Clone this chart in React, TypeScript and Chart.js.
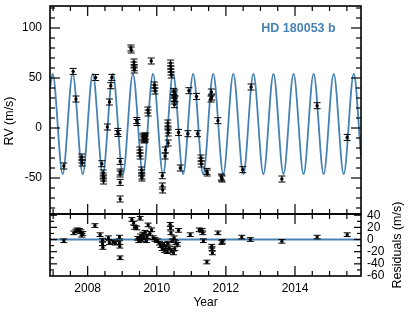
import React, { useEffect, useRef } from 'react';
import { Chart, registerables } from 'chart.js';
Chart.register(...registerables);

// ---------- data ----------
const X_MIN = 2006.91;
const X_MAX = 2015.91;

const rvYears = [
  2007.31, 2007.58, 2007.66, 2007.83, 2007.83, 2007.84, 2008.23, 2008.41, 2008.45, 2008.45,
  2008.46, 2008.46, 2008.57, 2008.63, 2008.67, 2008.70, 2008.87, 2008.88, 2008.94, 2008.94,
  2008.94, 2008.94, 2008.94, 2009.25, 2009.26, 2009.34, 2009.34, 2009.35, 2009.35, 2009.42,
  2009.43, 2009.51, 2009.51, 2009.52, 2009.56, 2009.56, 2009.57, 2009.57, 2009.60, 2009.62,
  2009.63, 2009.64, 2009.65, 2009.66, 2009.67, 2009.68, 2009.74, 2009.75, 2009.84, 2009.93,
  2009.94, 2009.95, 2010.16, 2010.16, 2010.17, 2010.24, 2010.25, 2010.32, 2010.32, 2010.33,
  2010.33, 2010.33, 2010.40, 2010.40, 2010.41, 2010.41, 2010.42, 2010.49, 2010.50, 2010.50,
  2010.51, 2010.51, 2010.52, 2010.53, 2010.63, 2010.68, 2010.90, 2010.93, 2011.15, 2011.18,
  2011.28, 2011.28, 2011.29, 2011.45, 2011.46, 2011.58, 2011.59, 2011.57, 2011.77, 2011.87,
  2011.88, 2011.89, 2012.49, 2012.73, 2013.62, 2014.64, 2015.51,
];
const rvValues = [
  -38, 56.6, 29, -29, -32, -35, 50.5, -35.7, -45, -48,
  -50, -53, 1, 26, 42.3, 50.6, -3.4, -5.5, -33.4, -44,
  -46, -54.4, -71, 80, 78, 66, 63, 60.3, 58, 7.5,
  5.5, -22, -25, -28, -42, -45, -48, -50, -9, -11,
  -8, -12, -10, -9, -11, -8, 18, 15, 67, 43,
  40, 37, -47.7, -58, -62, -28, -22, 5, 2, -2,
  -5, -15, 65, 62, 59, 56, 53, 36.6, 33, 30,
  27, 23.3, 35, 29, -4.4, -40, -5.7, 37.3, 31.6, -5.7,
  -30, -33, -36, -43.4, -45, 36, 31, 29, 7.3, -49,
  -50, -51, -41.7, 41, -51, 22.3, -9.4,
];
const RV_ERR = 3;

const resYears = [
  2007.31, 2007.60, 2007.66, 2007.70, 2007.76, 2007.80, 2007.83, 2007.86, 2008.21, 2008.36,
  2008.43, 2008.43, 2008.44, 2008.60, 2008.63, 2008.74, 2008.80, 2008.92, 2008.92, 2008.93,
  2008.94, 2009.28, 2009.33, 2009.36, 2009.52, 2009.42, 2009.45, 2009.48, 2009.53, 2009.57,
  2009.60, 2009.62, 2009.66, 2009.70, 2009.72, 2009.75, 2009.80, 2009.85, 2009.90, 2009.95,
  2010.02, 2010.08, 2010.12, 2010.16, 2010.20, 2010.22, 2010.27, 2010.30, 2010.32, 2010.36,
  2010.42, 2010.48, 2010.52, 2010.45, 2010.50, 2010.55, 2010.60, 2010.39, 2010.40, 2010.41,
  2010.63, 2010.97, 2011.23, 2011.31, 2011.33, 2011.35, 2011.45, 2011.59, 2011.60, 2011.61,
  2011.77, 2011.88, 2011.90, 2012.46, 2012.71, 2013.62, 2014.64, 2015.51,
];
const resValues = [
  -2, 11, 14, 16, 15, 13, 7, 10, 23, 8,
  -1, -7, -13, 3, -5, -4, -6, 4, -5, -11,
  -30, 33, 27, 20, 35, 19, 2, -2, 6, 0,
  9, 3, 12, -2, 5, 24, 10, 16, 3, 0,
  -2, -6, -10, -15, -8, -18, -12, -20, -6, -14,
  -18, -22, -15, -2, 3, -5, -8, 25, 19, 11,
  15, 8, 16, 15, 11, -2, -37, -11, -15, -22,
  11, -5, -3, 4, 0, -3, 4, 8,
];
const RES_ERR = 3;

// Keplerian fit: its extremes (peaks / troughs) and the edge values
const fitYears = [
  2006.91, 2006.986, 2007.276, 2007.567, 2007.857, 2008.148, 2008.438, 2008.729, 2009.019,
  2009.31, 2009.6, 2009.891, 2010.181, 2010.472, 2010.762, 2011.053, 2011.343, 2011.634,
  2011.924, 2012.215, 2012.505, 2012.796, 2013.086, 2013.377, 2013.667, 2013.958, 2014.248,
  2014.539, 2014.829, 2015.12, 2015.41, 2015.701, 2015.91,
];
const fitValues = [
  40, 54, -46, 54, -46, 54, -46, 54, -46,
  54, -46, 54, -46, 54, -46, 54, -46, 54,
  -46, 54, -46, 54, -46, 54, -46, 54, -46,
  54, -46, 54, -46, 54, -28,
];

const rvTicks = [-50, 0, 50, 100];
const resTicks = [-60, -40, -20, 0, 20, 40];
const yearTicks = [2008, 2010, 2012, 2014];
const yearMinorStep = 0.5;

const BLUE = '#4682b4';
const FONT = "'Liberation Sans', Arial, Helvetica, sans-serif";

function steps(a: number, b: number, step: number): number[] {
  const out: number[] = [];
  for (let v = a; v <= b + 1e-9; v += step) out.push(Math.round(v * 1000) / 1000);
  return out;
}

function framePlugin(o: {
  yMinor: number[]; yMajor: number[]; yMajorLen: number; yMinorLen: number;
  xMajorLen: number; xMinorLen: number;
}) {
  return {
    id: 'frameTicks',
    afterDraw(chart: any) {
      const { ctx, chartArea: a, scales } = chart;
      const xs = scales.x;
      const ys = scales.y;
      ctx.save();
      ctx.strokeStyle = '#000';
      ctx.lineWidth = 1.2;
      const seg = (x1: number, y1: number, x2: number, y2: number) => {
        ctx.beginPath();
        ctx.moveTo(x1, y1);
        ctx.lineTo(x2, y2);
        ctx.stroke();
      };
      for (const v of steps(2007, 2015.5, yearMinorStep)) {
        const px = xs.getPixelForValue(v);
        if (px <= a.left || px >= a.right) continue;
        const len = yearTicks.includes(v) ? o.xMajorLen : o.xMinorLen;
        seg(px, a.top, px, a.top + len);
        seg(px, a.bottom, px, a.bottom - len);
      }
      for (const v of o.yMinor) {
        const py = ys.getPixelForValue(v);
        if (py <= a.top || py >= a.bottom) continue;
        const len = o.yMajor.includes(v) ? o.yMajorLen : o.yMinorLen;
        seg(a.left, py, a.left + len, py);
        seg(a.right, py, a.right - len, py);
      }
      ctx.lineWidth = 1.6;
      ctx.strokeRect(a.left, a.top, a.right - a.left, a.bottom - a.top);
      ctx.restore();
    },
  };
}

function errorBarPlugin(years: number[], values: number[], err: number, capHalf: number) {
  return {
    id: 'errorBars',
    afterDatasetsDraw(chart: any) {
      const { ctx, scales } = chart;
      const xs = scales.x;
      const ys = scales.y;
      ctx.save();
      ctx.strokeStyle = '#000';
      ctx.lineWidth = 1;
      years.forEach((yr, i) => {
        const px = xs.getPixelForValue(yr);
        const t = ys.getPixelForValue(values[i] + err);
        const b = ys.getPixelForValue(values[i] - err);
        ctx.beginPath();
        ctx.moveTo(px, t);
        ctx.lineTo(px, b);
        ctx.moveTo(px - capHalf, t);
        ctx.lineTo(px + capHalf, t);
        ctx.moveTo(px - capHalf, b);
        ctx.lineTo(px + capHalf, b);
        ctx.stroke();
      });
      ctx.restore();
    },
  };
}

function textPlugin(items: { text: string; x: number; y: number; rot: number; font: string; color: string }[]) {
  return {
    id: 'texts',
    afterDraw(chart: any) {
      const { ctx } = chart;
      for (const it of items) {
        ctx.save();
        ctx.translate(it.x, it.y);
        ctx.rotate(it.rot);
        ctx.font = it.font;
        ctx.fillStyle = it.color;
        ctx.textAlign = 'center';
        ctx.textBaseline = 'middle';
        ctx.fillText(it.text, 0, 0);
        ctx.restore();
      }
    },
  };
}

export default function App() {
  const mainRef = useRef<HTMLCanvasElement | null>(null);
  const resRef = useRef<HTMLCanvasElement | null>(null);

  useEffect(() => {
    const tickFont = { family: FONT, size: 12 };
    const plain = (v: any) => String(v);

    const main = new Chart(mainRef.current!, {
      type: 'scatter',
      data: {
        datasets: [
          {
            type: 'scatter',
            data: rvYears.map((x, i) => ({ x, y: rvValues[i] })),
            pointRadius: 1.7,
            pointBackgroundColor: '#000',
            pointBorderWidth: 0,
          } as any,
          {
            type: 'line',
            data: fitYears.map((x, i) => ({ x, y: fitValues[i] })),
            borderColor: BLUE,
            borderWidth: 1.8,
            pointRadius: 0,
            cubicInterpolationMode: 'monotone',
            fill: false,
          } as any,
        ],
      },
      options: {
        animation: false,
        responsive: false,
        devicePixelRatio: 1,
        events: [],
        layout: { padding: { top: 6, right: 54, bottom: 98, left: 0 } },
        plugins: { legend: { display: false }, tooltip: { enabled: false } },
        scales: {
          x: { type: 'linear', min: X_MIN, max: X_MAX, display: false },
          y: {
            type: 'linear',
            position: 'left',
            min: -86,
            max: 122,
            grid: { display: false, drawTicks: false },
            border: { display: false },
            ticks: { padding: 8, font: tickFont, color: '#000', autoSkip: false, callback: plain },
            afterBuildTicks: (s: any) => {
              s.ticks = rvTicks.map((v) => ({ value: v }));
            },
            afterFit: (s: any) => {
              s.width = 50;
              s.paddingTop = 0;
              s.paddingBottom = 0;
            },
          },
        },
      } as any,
      plugins: [
        errorBarPlugin(rvYears, rvValues, RV_ERR, 3.5),
        framePlugin({
          yMinor: steps(-80, 120, 10),
          yMajor: rvTicks,
          yMajorLen: 10,
          yMinorLen: 5,
          xMajorLen: 10,
          xMinorLen: 5,
        }),
        textPlugin([
          { text: 'RV (m/s)', x: 10, y: 121, rot: -Math.PI / 2, font: `12.5px ${FONT}`, color: '#000' },
          { text: 'HD 180053 b', x: 298.5, y: 28.5, rot: 0, font: `bold 12.5px ${FONT}`, color: BLUE },
        ]),
      ],
    });

    const res = new Chart(resRef.current!, {
      type: 'scatter',
      data: {
        datasets: [
          {
            type: 'scatter',
            data: resYears.map((x, i) => ({ x, y: resValues[i] })),
            pointRadius: 1.7,
            pointBackgroundColor: '#000',
            pointBorderWidth: 0,
          } as any,
          {
            type: 'line',
            data: [
              { x: X_MIN, y: 0 },
              { x: X_MAX, y: 0 },
            ],
            borderColor: BLUE,
            borderWidth: 2,
            pointRadius: 0,
            fill: false,
          } as any,
        ],
      },
      options: {
        animation: false,
        responsive: false,
        devicePixelRatio: 1,
        events: [],
        layout: { padding: { top: 214, right: 0, bottom: 0, left: 50 } },
        plugins: { legend: { display: false }, tooltip: { enabled: false } },
        scales: {
          x: {
            type: 'linear',
            position: 'bottom',
            min: X_MIN,
            max: X_MAX,
            grid: { display: false, drawTicks: false },
            border: { display: false },
            ticks: { padding: 5, font: tickFont, color: '#000', maxRotation: 0, autoSkip: false, callback: plain },
            title: { display: true, text: 'Year', font: { family: FONT, size: 12 }, color: '#000', padding: { top: 0, bottom: 2 } },
            afterBuildTicks: (s: any) => {
              s.ticks = yearTicks.map((v) => ({ value: v }));
            },
            afterFit: (s: any) => {
              s.height = 36;
              s.paddingLeft = 0;
              s.paddingRight = 0;
            },
          },
          y: {
            type: 'linear',
            position: 'right',
            min: -60,
            max: 42,
            grid: { display: false, drawTicks: false },
            border: { display: false },
            ticks: { padding: 6, font: tickFont, color: '#000', autoSkip: false, callback: plain },
            afterBuildTicks: (s: any) => {
              s.ticks = resTicks.map((v) => ({ value: v }));
            },
            afterFit: (s: any) => {
              s.width = 54;
              s.paddingTop = 0;
              s.paddingBottom = 0;
            },
          },
        },
      } as any,
      plugins: [
        errorBarPlugin(resYears, resValues, RES_ERR, 3.5),
        framePlugin({
          yMinor: steps(-60, 40, 10),
          yMajor: resTicks,
          yMajorLen: 7,
          yMinorLen: 4,
          xMajorLen: 10,
          xMinorLen: 5,
        }),
        textPlugin([
          { text: 'Residuals (m/s)', x: 398, y: 245, rot: -Math.PI / 2, font: `12.5px ${FONT}`, color: '#000' },
        ]),
      ],
    });

    return () => {
      main.destroy();
      res.destroy();
    };
  }, []);

  const cStyle: React.CSSProperties = { position: 'absolute', left: 0, top: 0, width: 415, height: 312 };
  return (
    <div style={{ position: 'fixed', left: 0, top: 0, width: 415, height: 312, background: '#fff' }}>
      <canvas ref={mainRef} width={415} height={312} style={cStyle} />
      <canvas ref={resRef} width={415} height={312} style={cStyle} />
    </div>
  );
}
